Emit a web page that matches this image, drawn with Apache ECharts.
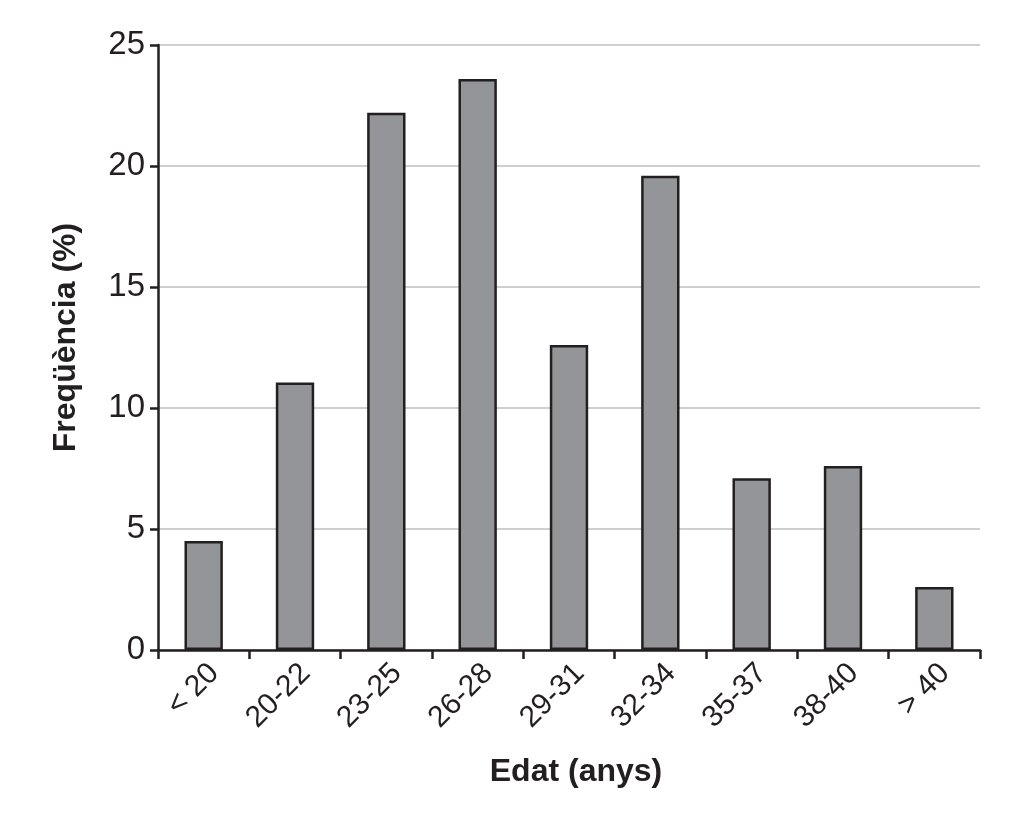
<!DOCTYPE html>
<html><head><meta charset="utf-8">
<script src="https://cdn.jsdelivr.net/npm/echarts@6/dist/echarts.min.js"></script>
<style>html,body{margin:0;padding:0;background:#fff}#c{width:1012px;height:816px}</style>
</head><body><div id="c"></div>
<script>
const categories = ['< 20','20-22','23-25','26-28','29-31','32-34','35-37','38-40','> 40'];
const frequencies = [4.5, 11.05, 22.2, 23.6, 12.6, 19.6, 7.1, 7.6, 2.6];
const yTicks = {min: 0, max: 25, interval: 5};
const chart = echarts.init(document.getElementById('c'));
const font = 'Liberation Sans, Arial, Helvetica, sans-serif';
chart.setOption({
  animation: false,
  backgroundColor: '#fff',
  grid: {left: 158, right: 32, top: 45, bottom: 166, containLabel: false},
  xAxis: {
    type: 'category', data: categories,
    name: 'Edat (anys)', nameLocation: 'middle', nameGap: 106,
    nameTextStyle: {fontFamily: font, fontSize: 32, fontWeight: 'bold', color: '#231f20', padding: [0, 0, 0, 14]},
    axisLine: {lineStyle: {color: '#231f20', width: 2.5}},
    axisTick: {show: true, length: 9, lineStyle: {color: '#231f20', width: 2.5}, alignWithLabel: false},
    axisLabel: {rotate: 45, fontFamily: font, fontSize: 30, color: '#231f20', margin: 8, interval: 0, verticalAlign: 'top'},
    splitLine: {show: false}
  },
  yAxis: {
    type: 'value', min: yTicks.min, max: yTicks.max, interval: yTicks.interval,
    name: 'Freqüència (%)', nameLocation: 'middle', nameGap: 76,
    nameTextStyle: {fontFamily: font, fontSize: 32, fontWeight: 'bold', color: '#231f20', padding: [0, 0, 0, 20]},
    axisLine: {show: true, lineStyle: {color: '#231f20', width: 2.5}},
    axisTick: {show: true, length: 8, lineStyle: {color: '#231f20', width: 2.5}},
    axisLabel: {fontFamily: font, fontSize: 33, color: '#231f20', margin: 13},
    splitLine: {show: true, lineStyle: {color: '#cfcfcf', width: 2}}
  },
  series: [{
    type: 'bar', data: frequencies, barWidth: '42%',
    itemStyle: {color: '#939598', borderColor: '#231f20', borderWidth: 2.5}
  }]
});
</script></body></html>
